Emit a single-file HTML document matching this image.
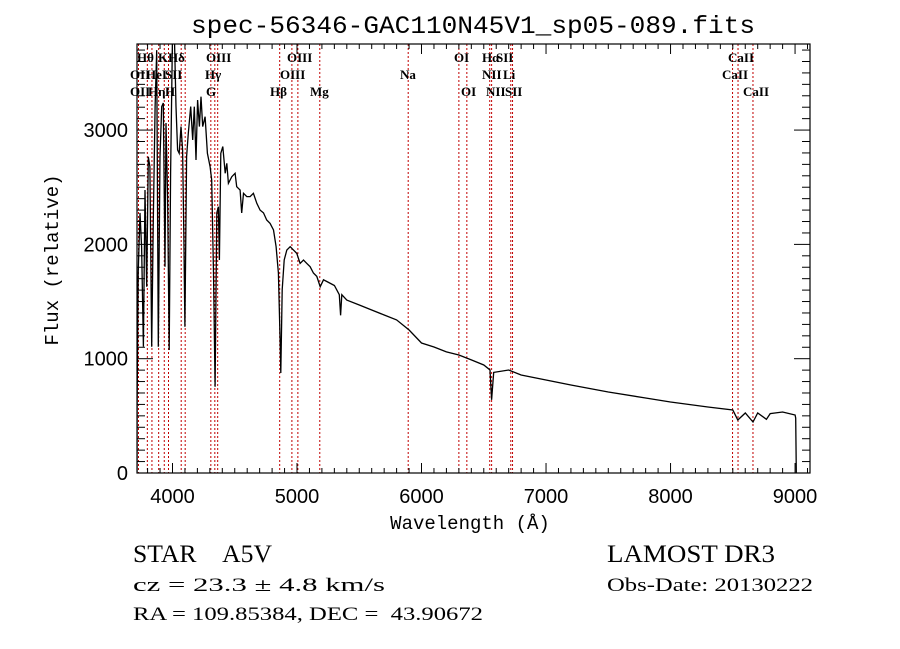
<!DOCTYPE html>
<html><head><meta charset="utf-8"><style>
html,body{margin:0;padding:0;background:#fff;}
svg{display:block;}
</style></head><body>
<svg id="chart" width="900" height="649" viewBox="0 0 900 649" xmlns="http://www.w3.org/2000/svg">
<rect width="900" height="649" fill="#fff"/>
<text x="473" y="33" font-family="Liberation Mono, monospace" font-size="25" text-anchor="middle" textLength="564" lengthAdjust="spacingAndGlyphs">spec-56346-GAC110N45V1_sp05-089.fits</text>
<g id="lines"></g>
<g id="labels"></g>
<g id="spec"></g>
<g id="axes"></g>
<text x="470" y="529" font-family="Liberation Mono, monospace" font-size="19" text-anchor="middle">Wavelength (Å)</text>
<text transform="translate(58,260) rotate(-90)" font-family="Liberation Mono, monospace" font-size="19" text-anchor="middle">Flux (relative)</text>
<g font-family="Liberation Serif, serif">
<text x="133" y="562" font-size="25" textLength="139" lengthAdjust="spacingAndGlyphs">STAR&#160;&#160;&#160;&#160;A5V</text>
<text x="607" y="562" font-size="25" textLength="168" lengthAdjust="spacingAndGlyphs">LAMOST DR3</text>
<text x="133" y="591" font-size="19" textLength="252" lengthAdjust="spacingAndGlyphs">cz = 23.3 ± 4.8 km/s</text>
<text x="607" y="591" font-size="19" textLength="206" lengthAdjust="spacingAndGlyphs">Obs-Date: 20130222</text>
<text x="133" y="620" font-size="19" textLength="350" lengthAdjust="spacingAndGlyphs">RA = 109.85384, DEC = &#160;43.90672</text>
</g>
</svg>
<script>
const wavelengths=[3715,3716,3725,3739,3752,3766,3779,3793,3806,3819,3833,3846,3860,3873,3886,3900,3913,3926,3940,3948,3961,3974,3985,4001,4014,4028,4041,4054,4068,4081,4092,4100,4113,4127,4146,4162,4175,4189,4202,4216,4229,4243,4262,4280,4302,4315,4329,4342,4356,4369,4377,4388,4404,4423,4436,4449,4476,4503,4516,4543,4556,4570,4597,4623,4650,4677,4704,4731,4757,4784,4811,4832,4851,4864,4870,4881,4897,4918,4945,4972,4998,5025,5052,5079,5105,5132,5159,5186,5213,5239,5300,5340,5350,5360,5400,5500,5600,5700,5800,5900,6000,6100,6200,6300,6400,6500,6550,6563,6580,6700,6800,7000,7200,7500,7800,8000,8300,8500,8540,8600,8662,8700,8770,8800,8900,9000,9005,9010];
const fluxes=[0,600,1750,2275,1980,1105,2476,1630,2767,2680,1105,2213,3205,3700,1105,2767,3205,3237,1805,3062,2418,1076,2622,3900,3900,3205,2826,2797,3030,2826,2038,1280,2767,2972,3205,2913,3205,2738,3263,3030,3292,3030,3117,2797,2680,2563,1750,755,2275,2330,1863,2797,2855,2622,2709,2534,2592,2622,2505,2476,2275,2447,2418,2418,2447,2359,2300,2275,2213,2184,2126,1980,1750,1163,875,1604,1863,1950,1980,1950,1921,1834,1863,1834,1805,1750,1720,1630,1690,1675,1640,1560,1380,1560,1513,1470,1426,1382,1339,1251,1137,1102,1059,1032,989,945,901,640,880,901,857,814,770,709,656,621,577,551,464,525,446,525,470,520,534,507,480,0];
const lineWaves=[3727,3798,3835,3889,3934,3968,4070,4102,4308,4340,4363,4861,4959,5007,5183,5893,6300,6364,6548,6563,6717,6731,8498,8542,8662];
const labelTexts=["Hθ","K","Hδ","OIII","OIII","OI","Hα","SII","CaII","OII","HeI","SII","Hγ","OIII","Na","NII","Li","CaII","OII","Hη","H","G","Hβ","Mg","OI","NII","SII","CaII"];
const labelX=[137,158,168,206,287,454,482,496,728,130,146,165,205,280,400,482,503,722,130,148,165,206,270,310,461,486,505,743];
const labelRow=[0,0,0,0,0,0,0,0,0,1,1,1,1,1,1,1,1,1,2,2,2,2,2,2,2,2,2,2];
const xTicks=[4000,5000,6000,7000,8000,9000];
const yTicks=[0,1000,2000,3000];

const L=137,R=810,T=44,B=473;
const X0=3715,X1=9120,Y0=0,Y1=3753;
const sx=w=>L+(w-X0)/(X1-X0)*(R-L);
const sy=f=>B-(f-Y0)/(Y1-Y0)*(B-T);
const NS='http://www.w3.org/2000/svg';
function mk(tag,attrs,parent){const e=document.createElementNS(NS,tag);for(const k in attrs)e.setAttribute(k,attrs[k]);parent.appendChild(e);return e;}

const gl=document.getElementById('lines');
lineWaves.forEach(w=>{
 const l=mk('line',{x1:sx(w),x2:sx(w),y1:T,y2:B,stroke:'#c00000','stroke-width':1,'stroke-dasharray':'2,2'},gl);
 
 
});
const glab=document.getElementById('labels');
labelTexts.forEach((t,i)=>{
 const e=mk('text',{x:labelX[i],y:62+labelRow[i]*17,'font-family':'Liberation Serif, serif','font-size':13,'font-weight':'bold'},glab);
 e.textContent=t;
 
 
});
const gs=document.getElementById('spec');
mk('clipPath',{id:'cp'},gs).appendChild(document.createElementNS(NS,'rect'));
const cr=gs.querySelector('clipPath rect');cr.setAttribute('x',L);cr.setAttribute('y',T);cr.setAttribute('width',R-L);cr.setAttribute('height',B-T);
const pts=wavelengths.map((w,i)=>sx(w).toFixed(1)+','+sy(fluxes[i]).toFixed(1)).join(' ');
const pl=mk('polyline',{points:pts,fill:'none',stroke:'#000','stroke-width':1.3,'clip-path':'url(#cp)'},gs);



const ga=document.getElementById('axes');
const fr=mk('rect',{x:L,y:T,width:R-L,height:B-T,fill:'none',stroke:'#000','stroke-width':1.2},ga);


for(let w=3800;w<=X1;w+=100){
 const x=sx(w),maj=w%1000===0,len=maj?10:5;
 mk('line',{x1:x,x2:x,y1:B,y2:B-len,stroke:'#000'},ga);
 mk('line',{x1:x,x2:x,y1:T,y2:T+len,stroke:'#000'},ga);
}
for(let f=100;f<=Y1;f+=100){
 const y=sy(f),maj=f%1000===0,len=maj?16:8;
 mk('line',{x1:L,x2:L+len,y1:y,y2:y,stroke:'#000'},ga);
 mk('line',{x1:R,x2:R-len,y1:y,y2:y,stroke:'#000'},ga);
}
xTicks.forEach(w=>{
 const t=mk('text',{x:sx(w),y:B+30,'text-anchor':'middle','font-family':'Liberation Sans, sans-serif','font-size':20},ga);
 t.textContent=String(w);
 
 
});
yTicks.forEach(f=>{
 const t=mk('text',{x:L-9,y:sy(f)+7,'text-anchor':'end','font-family':'Liberation Sans, sans-serif','font-size':20},ga);
 t.textContent=String(f);
 
 
});
</script>
</body></html>
